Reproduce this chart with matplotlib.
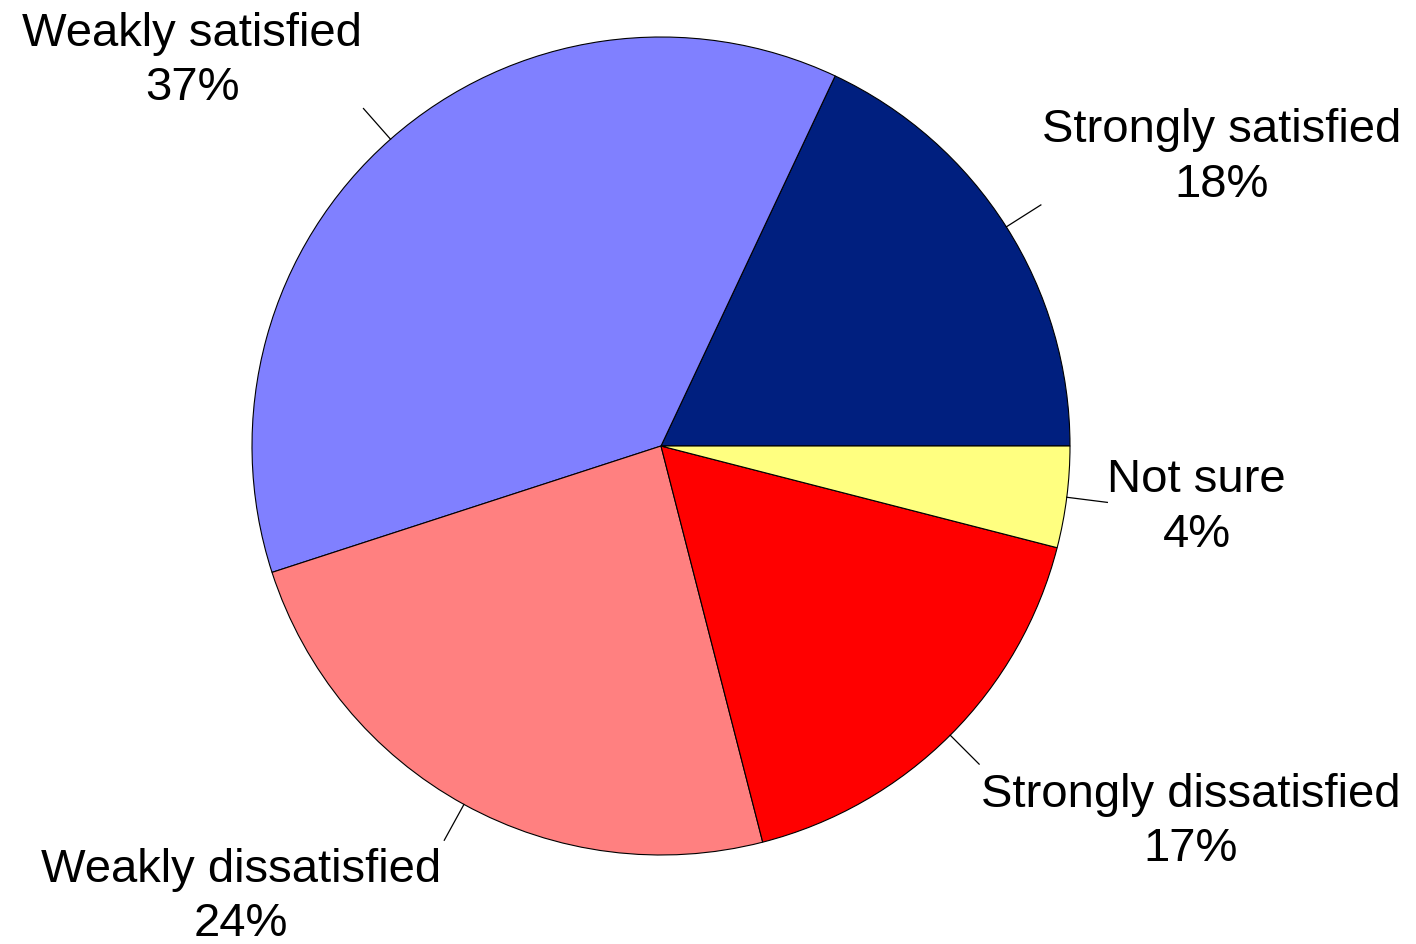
import numpy as np
import matplotlib
matplotlib.use("Agg")
import matplotlib.pyplot as plt

categories = ["Strongly satisfied", "Weakly satisfied", "Weakly dissatisfied",
              "Strongly dissatisfied", "Not sure"]
values = [18, 37, 24, 17, 4]
colors = ["#001F7F", "#8080FF", "#FF8080", "#FF0000", "#FFFF80"]

# label text centres, in units of the pie radius (layout only)
label_offsets = [(1.371, 0.708), (-1.146, 0.944), (-1.027, -1.100),
                 (1.295, -0.917), (1.310, -0.148)]

plt.rcParams['font.family'] = ['Liberation Sans', 'DejaVu Sans']

W, H = 1416, 945
fig = plt.figure(figsize=(W / 100, H / 100), dpi=100)
ax = fig.add_axes([0, 0, 1, 1])
cx, cy, R = 661, 447, 409

wedges, _ = ax.pie(values, colors=colors, startangle=0, counterclock=True,
                   radius=1.0, center=(0, 0), frame=True,
                   wedgeprops=dict(edgecolor='black', linewidth=0.8))
ax.set_xlim(-cx / R, (W - cx) / R)
ax.set_ylim(-(H - cy) / R, cy / R)
ax.set_aspect('auto')
ax.axis('off')

total = sum(values)
for w, cat, v, (tx, ty) in zip(wedges, categories, values, label_offsets):
    mid = np.deg2rad((w.theta1 + w.theta2) / 2)
    x0, y0 = np.cos(mid), np.sin(mid)
    ax.plot([x0, 1.1 * x0], [y0, 1.1 * y0], color='black', linewidth=0.9)
    pct = round(100 * v / total)
    ax.text(tx, ty, f"{cat}\n{pct}%", ha='center', va='center',
            fontsize=34, linespacing=1.31)

fig.savefig("out.png", dpi=100)
